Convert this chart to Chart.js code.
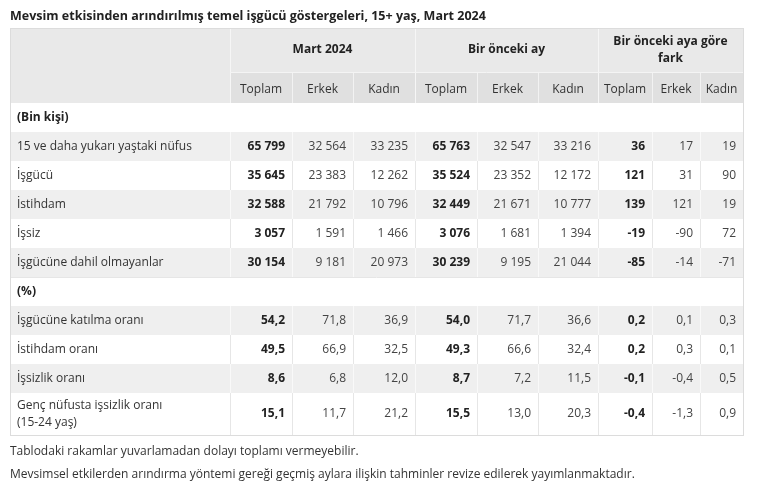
<!DOCTYPE html>
<html>
<head>
<meta charset="utf-8">
<script src="https://cdn.jsdelivr.net/npm/chart.js@4.4.0/dist/chart.umd.min.js"></script>
<style>
  html, body { margin: 0; padding: 0; background: #fff; }
  #wrap { width: 760px; height: 493px; position: relative; }
</style>
</head>
<body>
<div id="wrap"><canvas id="tbl"></canvas></div>
<script>
// --- Data ---
const TITLE = 'Mevsim etkisinden arındırılmış temel işgücü göstergeleri, 15+ yaş, Mart 2024';
const GROUPS = ['Mart 2024', 'Bir önceki ay', 'Bir önceki aya göre\nfark'];
const SUBHEADS = ['Toplam', 'Erkek', 'Kadın'];
const SECTIONS = ['(Bin kişi)', '(%)'];

const ROWS_BIN = [
  '15 ve daha yukarı yaştaki nüfus',
  'İşgücü',
  'İstihdam',
  'İşsiz',
  'İşgücüne dahil olmayanlar',
];
const VALUES_BIN = [
  ['65 799', '32 564', '33 235', '65 763', '32 547', '33 216', '36', '17', '19'],
  ['35 645', '23 383', '12 262', '35 524', '23 352', '12 172', '121', '31', '90'],
  ['32 588', '21 792', '10 796', '32 449', '21 671', '10 777', '139', '121', '19'],
  ['3 057', '1 591', '1 466', '3 076', '1 681', '1 394', '-19', '-90', '72'],
  ['30 154', '9 181', '20 973', '30 239', '9 195', '21 044', '-85', '-14', '-71'],
];

const ROWS_PCT = [
  'İşgücüne katılma oranı',
  'İstihdam oranı',
  'İşsizlik oranı',
  'Genç nüfusta işsizlik oranı\n(15-24 yaş)',
];
const VALUES_PCT = [
  ['54,2', '71,8', '36,9', '54,0', '71,7', '36,6', '0,2', '0,1', '0,3'],
  ['49,5', '66,9', '32,5', '49,3', '66,6', '32,4', '0,2', '0,3', '0,1'],
  ['8,6', '6,8', '12,0', '8,7', '7,2', '11,5', '-0,1', '-0,4', '0,5'],
  ['15,1', '11,7', '21,2', '15,5', '13,0', '20,3', '-0,4', '-1,3', '0,9'],
];

const NOTES = [
  'Tablodaki rakamlar yuvarlamadan dolayı toplamı vermeyebilir.',
  'Mevsimsel etkilerden arındırma yöntemi gereği geçmiş aylara ilişkin tahminler revize edilerek yayımlanmaktadır.',
];

// --- Layout (in the chart's x/y scale units) ---
const COL_EDGES = [10, 230, 292, 353, 415, 477, 538, 598, 652, 700, 743];
const FONT = '"Open Sans", "Noto Sans", sans-serif';
const LINE = '#dcdcdc';

function buildRows() {
  const rows = [];
  rows.push({ type: 'section', label: SECTIONS[0], h: 29 });
  ROWS_BIN.forEach((l, i) => rows.push({ type: 'data', label: l, values: VALUES_BIN[i], h: 29 }));
  rows.push({ type: 'section', label: SECTIONS[1], h: 29 });
  ROWS_PCT.forEach((l, i) => rows.push({ type: 'data', label: l, values: VALUES_PCT[i], h: l.includes('\n') ? 42 : 29 }));
  return rows;
}

const tablePlugin = {
  id: 'tablePlugin',
  afterDraw(chart) {
    const { ctx } = chart;
    const X = v => chart.scales.x.getPixelForValue(v);
    const Y = v => chart.scales.y.getPixelForValue(v);
    const rect = (x0, y0, x1, y1, fill) => {
      ctx.fillStyle = fill;
      ctx.fillRect(X(x0), Y(y0), X(x1) - X(x0), Y(y1) - Y(y0));
    };
    const vline = (x, y0, y1, col) => {
      ctx.strokeStyle = col; ctx.lineWidth = 1;
      ctx.beginPath(); ctx.moveTo(Math.round(X(x)) + 0.5, Y(y0)); ctx.lineTo(Math.round(X(x)) + 0.5, Y(y1)); ctx.stroke();
    };
    const hline = (y, x0, x1, col) => {
      ctx.strokeStyle = col; ctx.lineWidth = 1;
      ctx.beginPath(); ctx.moveTo(X(x0), Math.round(Y(y)) + 0.5); ctx.lineTo(X(x1), Math.round(Y(y)) + 0.5); ctx.stroke();
    };
    const text = (s, x, y, align, bold, size = 12, color = '#222') => {
      ctx.font = `${bold ? 'bold ' : ''}${size}px ${FONT}`;
      ctx.fillStyle = color;
      ctx.textAlign = align;
      ctx.textBaseline = 'middle';
      ctx.fillText(s, X(x), Y(y));
    };
    const L = COL_EDGES[0], R = COL_EDGES[COL_EDGES.length - 1];

    ctx.save();
    text(TITLE, 10, 16, 'left', true, 12.5, '#222');

    // header
    const h0 = 28, h1 = 72, h2 = 103;
    rect(L, h0, R, h1, '#e9e9e9');
    rect(L, h1, R, h2, '#e0e0e0');
    rect(L, h1, COL_EDGES[1], h2, '#e9e9e9');
    for (let g = 0; g < 3; g++) {
      const a = COL_EDGES[1 + g * 3], b = COL_EDGES[4 + g * 3];
      const lines = GROUPS[g].split('\n');
      lines.forEach((ln, k) => text(ln, (a + b) / 2, (h0 + h1) / 2 + (k - (lines.length - 1) / 2) * 17, 'center', true, 12));
      vline(a, h0, h2, '#f6f6f6');
      for (let c = 0; c < 3; c++) {
        const ca = COL_EDGES[1 + g * 3 + c], cb = COL_EDGES[2 + g * 3 + c];
        text(SUBHEADS[c], (ca + cb) / 2, (h1 + h2) / 2 + 2, 'center', false, 12, '#333');
        if (c > 0) vline(ca, h1, h2, '#f2f2f2');
      }
    }
    hline(h1, COL_EDGES[1], R, '#f4f4f4');

    // body
    let y = h2, alt = 0;
    for (const row of buildRows()) {
      const y1 = y + row.h;
      if (row.type === 'section') {
        text(row.label, L + 7, (y + y1) / 2, 'left', true, 12);
        alt = 0;
      } else {
        rect(L, y, R, y1, alt % 2 === 0 ? '#efefef' : '#ffffff');
        const lines = row.label.split('\n');
        lines.forEach((ln, k) => text(ln, L + 7, (y + y1) / 2 + (k - (lines.length - 1) / 2) * 17, 'left', false, 12, '#333'));
        row.values.forEach((v, i) => {
          text(v, COL_EDGES[i + 2] - 7, (y + y1) / 2, 'right', i % 3 === 0, 12, i % 3 === 0 ? '#222' : '#444');
        });
        for (let i = 1; i < COL_EDGES.length - 1; i++) vline(COL_EDGES[i], y, y1, alt % 2 === 0 ? '#f9f9f9' : '#e6e6e6');
        hline(y1, L, R, '#e6e6e6');
        alt++;
      }
      y = y1;
    }
    ctx.strokeStyle = LINE; ctx.lineWidth = 1;
    ctx.strokeRect(Math.round(X(L)) + 0.5, Math.round(Y(h0)) + 0.5, X(R) - X(L), Y(y) - Y(h0));

    text(NOTES[0], 10, 452, 'left', false, 12, '#333');
    text(NOTES[1], 10, 475, 'left', false, 12, '#333');
    ctx.restore();
  }
};

new Chart(document.getElementById('tbl'), {
  type: 'scatter',
  data: { datasets: [{ data: [] }] },
  options: {
    responsive: true,
    maintainAspectRatio: false,
    animation: false,
    layout: { padding: 0 },
    plugins: { legend: { display: false }, tooltip: { enabled: false } },
    scales: {
      x: { type: 'linear', min: 0, max: 760, display: false },
      y: { type: 'linear', min: 0, max: 493, reverse: true, display: false },
    },
  },
  plugins: [tablePlugin],
});
</script>
</body>
</html>
